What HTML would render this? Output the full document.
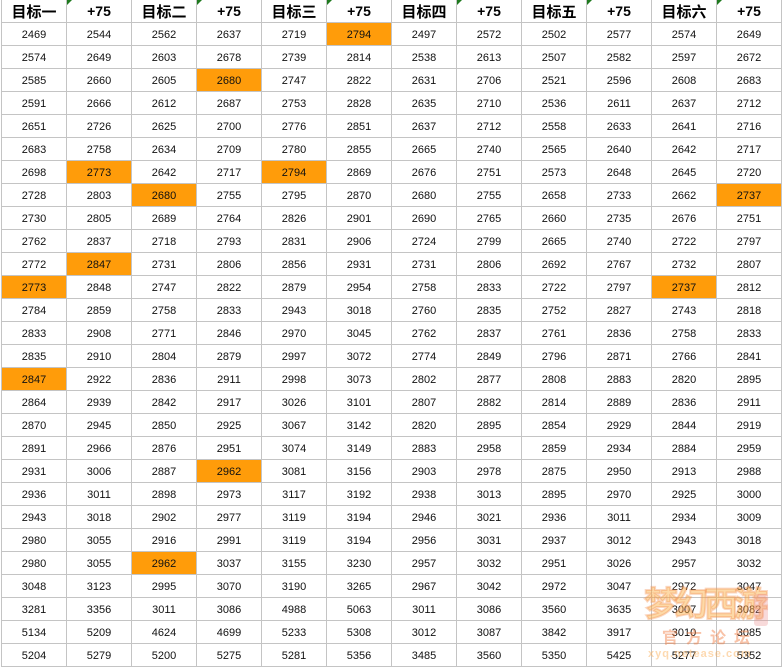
<!DOCTYPE html>
<html><head><meta charset="utf-8">
<style>
html,body{margin:0;padding:0;background:#fff;width:782px;height:668px;overflow:hidden;}
#g{position:absolute;left:1px;top:0;border-left:1px solid #c4c4c4;display:grid;grid-template-columns:repeat(12,65px);grid-template-rows:23px repeat(28,23px);}
#g>*{box-sizing:border-box;border-right:1px solid #c4c4c4;border-bottom:1px solid #c4c4c4;display:flex;align-items:center;justify-content:center;position:relative;}
#g>b{font:bold 15px "Liberation Sans","Noto Sans CJK SC",sans-serif;color:#000;}
#g>b.p{font:bold 14px "Liberation Sans",sans-serif;}
#g>b.p::before{content:"";position:absolute;left:0;top:0;border-top:5px solid #1f7a1f;border-right:5px solid transparent;}
#g>i{font:normal 11px "Liberation Sans",sans-serif;color:#111;padding-top:1px;}
#g>i.o{background:#ff9c0a;}
#wm{position:absolute;left:640px;top:580px;width:132px;height:84px;pointer-events:none;white-space:nowrap;}
#wm .t{position:absolute;left:4px;top:2px;font:bold 34px "Noto Sans CJK SC",sans-serif;color:rgba(250,170,60,0.45);letter-spacing:-4px;line-height:40px;-webkit-text-stroke:2px rgba(240,140,80,0.35);}
#wm .box{position:absolute;left:114px;top:14px;width:14px;height:32px;background:rgba(235,150,150,0.35);border-radius:3px;}
#wm .s{position:absolute;left:22px;top:46px;font:bold 16px "Noto Sans CJK SC",sans-serif;color:rgba(240,120,60,0.45);letter-spacing:8px;line-height:20px;}
#wm .u{position:absolute;left:8px;top:68px;font:bold 11px "Liberation Sans",sans-serif;color:rgba(250,170,80,0.45);letter-spacing:1px;}
</style></head><body>
<div id="g">
<b>目标一</b><b class="p">+75</b><b>目标二</b><b class="p">+75</b><b>目标三</b><b class="p">+75</b><b>目标四</b><b class="p">+75</b><b>目标五</b><b class="p">+75</b><b>目标六</b><b class="p">+75</b>
<i>2469</i><i>2544</i><i>2562</i><i>2637</i><i>2719</i><i class="o">2794</i><i>2497</i><i>2572</i><i>2502</i><i>2577</i><i>2574</i><i>2649</i>
<i>2574</i><i>2649</i><i>2603</i><i>2678</i><i>2739</i><i>2814</i><i>2538</i><i>2613</i><i>2507</i><i>2582</i><i>2597</i><i>2672</i>
<i>2585</i><i>2660</i><i>2605</i><i class="o">2680</i><i>2747</i><i>2822</i><i>2631</i><i>2706</i><i>2521</i><i>2596</i><i>2608</i><i>2683</i>
<i>2591</i><i>2666</i><i>2612</i><i>2687</i><i>2753</i><i>2828</i><i>2635</i><i>2710</i><i>2536</i><i>2611</i><i>2637</i><i>2712</i>
<i>2651</i><i>2726</i><i>2625</i><i>2700</i><i>2776</i><i>2851</i><i>2637</i><i>2712</i><i>2558</i><i>2633</i><i>2641</i><i>2716</i>
<i>2683</i><i>2758</i><i>2634</i><i>2709</i><i>2780</i><i>2855</i><i>2665</i><i>2740</i><i>2565</i><i>2640</i><i>2642</i><i>2717</i>
<i>2698</i><i class="o">2773</i><i>2642</i><i>2717</i><i class="o">2794</i><i>2869</i><i>2676</i><i>2751</i><i>2573</i><i>2648</i><i>2645</i><i>2720</i>
<i>2728</i><i>2803</i><i class="o">2680</i><i>2755</i><i>2795</i><i>2870</i><i>2680</i><i>2755</i><i>2658</i><i>2733</i><i>2662</i><i class="o">2737</i>
<i>2730</i><i>2805</i><i>2689</i><i>2764</i><i>2826</i><i>2901</i><i>2690</i><i>2765</i><i>2660</i><i>2735</i><i>2676</i><i>2751</i>
<i>2762</i><i>2837</i><i>2718</i><i>2793</i><i>2831</i><i>2906</i><i>2724</i><i>2799</i><i>2665</i><i>2740</i><i>2722</i><i>2797</i>
<i>2772</i><i class="o">2847</i><i>2731</i><i>2806</i><i>2856</i><i>2931</i><i>2731</i><i>2806</i><i>2692</i><i>2767</i><i>2732</i><i>2807</i>
<i class="o">2773</i><i>2848</i><i>2747</i><i>2822</i><i>2879</i><i>2954</i><i>2758</i><i>2833</i><i>2722</i><i>2797</i><i class="o">2737</i><i>2812</i>
<i>2784</i><i>2859</i><i>2758</i><i>2833</i><i>2943</i><i>3018</i><i>2760</i><i>2835</i><i>2752</i><i>2827</i><i>2743</i><i>2818</i>
<i>2833</i><i>2908</i><i>2771</i><i>2846</i><i>2970</i><i>3045</i><i>2762</i><i>2837</i><i>2761</i><i>2836</i><i>2758</i><i>2833</i>
<i>2835</i><i>2910</i><i>2804</i><i>2879</i><i>2997</i><i>3072</i><i>2774</i><i>2849</i><i>2796</i><i>2871</i><i>2766</i><i>2841</i>
<i class="o">2847</i><i>2922</i><i>2836</i><i>2911</i><i>2998</i><i>3073</i><i>2802</i><i>2877</i><i>2808</i><i>2883</i><i>2820</i><i>2895</i>
<i>2864</i><i>2939</i><i>2842</i><i>2917</i><i>3026</i><i>3101</i><i>2807</i><i>2882</i><i>2814</i><i>2889</i><i>2836</i><i>2911</i>
<i>2870</i><i>2945</i><i>2850</i><i>2925</i><i>3067</i><i>3142</i><i>2820</i><i>2895</i><i>2854</i><i>2929</i><i>2844</i><i>2919</i>
<i>2891</i><i>2966</i><i>2876</i><i>2951</i><i>3074</i><i>3149</i><i>2883</i><i>2958</i><i>2859</i><i>2934</i><i>2884</i><i>2959</i>
<i>2931</i><i>3006</i><i>2887</i><i class="o">2962</i><i>3081</i><i>3156</i><i>2903</i><i>2978</i><i>2875</i><i>2950</i><i>2913</i><i>2988</i>
<i>2936</i><i>3011</i><i>2898</i><i>2973</i><i>3117</i><i>3192</i><i>2938</i><i>3013</i><i>2895</i><i>2970</i><i>2925</i><i>3000</i>
<i>2943</i><i>3018</i><i>2902</i><i>2977</i><i>3119</i><i>3194</i><i>2946</i><i>3021</i><i>2936</i><i>3011</i><i>2934</i><i>3009</i>
<i>2980</i><i>3055</i><i>2916</i><i>2991</i><i>3119</i><i>3194</i><i>2956</i><i>3031</i><i>2937</i><i>3012</i><i>2943</i><i>3018</i>
<i>2980</i><i>3055</i><i class="o">2962</i><i>3037</i><i>3155</i><i>3230</i><i>2957</i><i>3032</i><i>2951</i><i>3026</i><i>2957</i><i>3032</i>
<i>3048</i><i>3123</i><i>2995</i><i>3070</i><i>3190</i><i>3265</i><i>2967</i><i>3042</i><i>2972</i><i>3047</i><i>2972</i><i>3047</i>
<i>3281</i><i>3356</i><i>3011</i><i>3086</i><i>4988</i><i>5063</i><i>3011</i><i>3086</i><i>3560</i><i>3635</i><i>3007</i><i>3082</i>
<i>5134</i><i>5209</i><i>4624</i><i>4699</i><i>5233</i><i>5308</i><i>3012</i><i>3087</i><i>3842</i><i>3917</i><i>3010</i><i>3085</i>
<i>5204</i><i>5279</i><i>5200</i><i>5275</i><i>5281</i><i>5356</i><i>3485</i><i>3560</i><i>5350</i><i>5425</i><i>5277</i><i>5352</i>
</div>
<div id="wm"><div class="t">梦幻西游</div><div class="box"></div><div class="s">官方论坛</div><div class="u">xyq.netease.com</div></div>
</body></html>
